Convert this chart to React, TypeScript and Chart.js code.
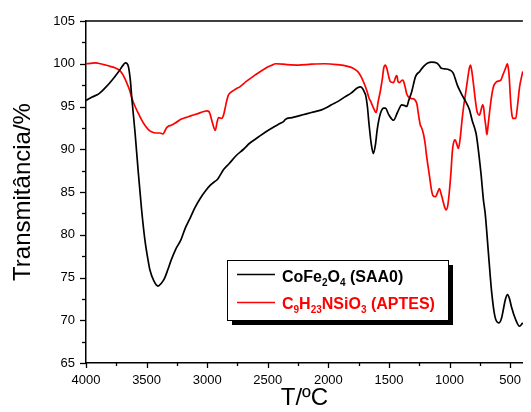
import React, { useEffect, useRef } from "react";
import { Chart, registerables } from "chart.js";

Chart.register(...registerables);

// ---- data ----
const saa0Wavenumber = [
  4000, 3950, 3892, 3840, 3784, 3730, 3690, 3676, 3660, 3649, 3635, 3622, 3595, 3568, 3541, 3514, 3490, 3473,
  3440, 3406, 3380, 3352, 3325, 3298, 3260, 3217, 3180, 3136, 3100, 3055, 3010, 2974, 2940, 2920, 2900, 2866,
  2820, 2758, 2700, 2650, 2580, 2515, 2440, 2400, 2366, 2355, 2300, 2218, 2140, 2056, 2010, 1975, 1920, 1867,
  1810, 1759, 1735, 1718, 1700, 1692, 1678, 1665, 1645, 1629, 1612, 1597, 1570, 1543, 1530, 1500, 1462, 1430,
  1394, 1370, 1354, 1335, 1313, 1281, 1246, 1214, 1180, 1146, 1106, 1085, 1071, 1040, 1004, 970, 936, 903, 868,
  835, 814, 782, 773, 741, 720, 706, 679, 652, 625, 593, 570, 557, 540, 522, 505, 490, 458, 423, 396,
];
const saa0Transmittance = [
  95.7, 96.1, 96.5, 97.2, 98.1, 99.1, 99.9, 100.1, 100.0, 99.6, 98.2, 96.0, 91.9, 87.2, 82.9, 79.4, 77.2, 75.9,
  74.6, 74.0, 74.3, 74.9, 75.9, 77.0, 78.3, 79.4, 80.8, 82.1, 83.2, 84.3, 85.2, 85.8, 86.2, 86.4, 86.8, 87.6,
  88.3, 89.3, 90.0, 90.7, 91.4, 92.05, 92.7, 93.0, 93.3, 93.5, 93.7, 94.0, 94.3, 94.6, 94.9, 95.2, 95.6, 96.1,
  96.6, 97.2, 97.3, 97.1, 96.6, 96.3, 95.0, 93.0, 90.5, 89.5, 90.5, 92.3, 94.2, 94.8, 94.8, 94.0, 93.4, 94.3,
  95.2, 95.1, 95.0, 95.8, 96.7, 98.5, 99.1, 99.7, 100.1, 100.2, 100.1, 99.8, 99.5, 99.4, 99.3, 98.9, 97.5, 96.5,
  95.6, 94.6, 93.4, 91.9, 91.1, 87.2, 84.0, 82.5, 77.8, 73.2, 70.4, 69.7, 70.3, 71.2, 72.4, 73.0, 72.5, 71.6,
  70.2, 69.3, 69.7,
];

const aptesWavenumber = [
  4000, 3960, 3919, 3880, 3838, 3800, 3757, 3730, 3703, 3680, 3662, 3640, 3622, 3595, 3568, 3540, 3514, 3485,
  3460, 3419, 3390, 3365, 3350, 3338, 3320, 3298, 3260, 3217, 3180, 3136, 3070, 3001, 2985, 2974, 2955, 2933,
  2918, 2906, 2880, 2865, 2852, 2840, 2826, 2800, 2758, 2731, 2680, 2623, 2570, 2515, 2470, 2434, 2340, 2245,
  2140, 2030, 1930, 1840, 1800, 1759, 1730, 1705, 1686, 1665, 1651, 1630, 1605, 1590, 1570, 1555, 1543, 1530,
  1515, 1500, 1489, 1462, 1443, 1435, 1425, 1414, 1389, 1381, 1365, 1354, 1327, 1300, 1287, 1268, 1260, 1241,
  1233, 1214, 1200, 1192, 1165, 1150, 1138, 1116, 1100, 1084, 1070, 1057, 1040, 1030, 1015, 1003, 990, 976, 962,
  954, 940, 927, 912, 900, 884, 868, 850, 835, 827, 815, 800, 785, 773, 754, 740, 727, 718, 711, 700, 692, 682,
  671, 655, 638, 611, 590, 576, 560, 543, 530, 524, 515, 508, 495, 485, 476, 454, 440, 422, 396,
];
const aptesTransmittance = [
  100.0, 100.05, 100.1, 100.0, 99.85, 99.7, 99.5, 99.3, 98.9, 98.3, 97.7, 96.9, 96.0, 95.0, 94.2, 93.4, 92.8, 92.3,
  92.05, 91.9, 91.9, 91.8, 92.1, 92.45, 92.7, 92.8, 93.1, 93.5, 93.7, 93.9, 94.2, 94.5, 94.4, 94.0, 93.0, 92.2,
  93.2, 93.7, 93.6, 94.0, 94.8, 95.6, 96.3, 96.7, 97.1, 97.3, 97.9, 98.5, 99.0, 99.5, 99.8, 100.0, 99.9, 99.85,
  99.95, 100.0, 99.9, 99.7, 99.5, 99.1, 98.5, 97.7, 97.0, 96.0, 95.6, 94.9, 94.3, 95.5, 96.9, 98.2, 99.5, 99.85,
  99.3, 98.4, 97.9, 97.8, 98.5, 98.6, 97.9, 97.8, 98.1, 98.0, 97.2, 96.5, 96.0, 95.9, 95.8, 95.2, 94.4, 92.8,
  92.6, 91.7, 90.5, 89.5, 86.8, 85.3, 84.6, 84.45, 84.9, 85.4, 84.8, 84.1, 83.2, 82.9, 83.4, 84.85, 87.0, 89.9, 91.0,
  91.1, 90.6, 90.1, 91.3, 93.0, 95.0, 96.5, 98.3, 99.6, 99.85, 99.0, 97.3, 95.5, 94.4, 94.0, 94.6, 95.2, 94.8, 93.8, 92.6, 91.7, 92.8,
  94.2, 96.0, 97.3, 97.9, 98.0, 98.1, 98.7, 99.3, 99.8, 100.0, 99.5, 98.5, 95.4, 94.0, 93.6, 93.6, 95.0, 97.3, 99.1,
];

const xMajorTicks = [4000, 3500, 3000, 2500, 2000, 1500, 1000, 500];
const xMinorTicks = [3750, 3250, 2750, 2250, 1750, 1250, 750];
const yMajorTicks = [65, 70, 75, 80, 85, 90, 95, 100, 105];
const yMinorTicks = [67.5, 72.5, 77.5, 82.5, 87.5, 92.5, 97.5, 102.5];

const xAxisTitle = "T/ºC";
const yAxisTitle = "Transmitância/%";

// legend labels as [text, isSubscript] parts
const saa0Label: [string, boolean][] = [["CoFe", false], ["2", true], ["O", false], ["4", true], [" (SAA0)", false]];
const aptesLabel: [string, boolean][] = [
  ["C", false], ["9", true], ["H", false], ["23", true], ["NSiO", false], ["3", true], [" (APTES)", false],
];

const FONT = "Arial, 'Liberation Sans', sans-serif";

const framePlugin = {
  id: "frameAndLegend",
  afterDraw(chart: any) {
    const { ctx, chartArea, scales } = chart;
    const xs = scales.x;
    const ys = scales.y;
    ctx.save();
    ctx.strokeStyle = "#000";
    ctx.lineWidth = 1.5;
    // top frame line
    ctx.beginPath();
    ctx.moveTo(chartArea.left, chartArea.top);
    ctx.lineTo(chartArea.right, chartArea.top);
    ctx.stroke();
    // x ticks
    ctx.lineWidth = 1.3;
    const tickX = (v: number, len: number) => {
      const px = Math.round(xs.getPixelForValue(v)) + 0.5;
      if (px > chartArea.right) return;
      ctx.beginPath();
      ctx.moveTo(px, chartArea.bottom);
      ctx.lineTo(px, chartArea.bottom + len);
      ctx.stroke();
    };
    xMajorTicks.forEach((v) => tickX(v, 5));
    xMinorTicks.forEach((v) => tickX(v, 3));
    const tickY = (v: number, len: number) => {
      const py = Math.round(ys.getPixelForValue(v)) + 0.5;
      ctx.beginPath();
      ctx.moveTo(chartArea.left, py);
      ctx.lineTo(chartArea.left - len, py);
      ctx.stroke();
    };
    yMajorTicks.forEach((v) => tickY(v, 6));
    yMinorTicks.forEach((v) => tickY(v, 4));

    // legend box
    const bx = 227, by = 260, bw = 221, bh = 60;
    ctx.fillStyle = "#000";
    ctx.fillRect(bx + 5, by + 5, bw, bh);
    ctx.fillStyle = "#fff";
    ctx.fillRect(bx, by, bw, bh);
    ctx.lineWidth = 1;
    ctx.strokeStyle = "#000";
    ctx.strokeRect(bx + 0.5, by + 0.5, bw, bh);

    const drawEntry = (parts: [string, boolean][], color: string, lineY: number, baseY: number) => {
      ctx.strokeStyle = color;
      ctx.lineWidth = 1.5;
      ctx.beginPath();
      ctx.moveTo(237, lineY);
      ctx.lineTo(275, lineY);
      ctx.stroke();
      ctx.fillStyle = color;
      ctx.textBaseline = "alphabetic";
      ctx.textAlign = "left";
      let x = 282;
      for (const [t, sub] of parts) {
        ctx.font = sub ? `bold 10px ${FONT}` : `bold 16px ${FONT}`;
        ctx.fillText(t, x, sub ? baseY + 4 : baseY);
        x += ctx.measureText(t).width;
      }
    };
    drawEntry(saa0Label, "#000", 274.5, 281.5);
    drawEntry(aptesLabel, "#ff0000", 302.5, 308.5);
    ctx.restore();
  },
};

export default function App() {
  const ref = useRef<HTMLCanvasElement>(null);
  useEffect(() => {
    document.body.style.margin = "0";
    document.body.style.overflow = "hidden";
    const canvas = ref.current!;
    const chart = new Chart(canvas, {
      type: "line",
      data: {
        datasets: [
          {
            label: "CoFe2O4 (SAA0)",
            data: saa0Wavenumber.map((x, i) => ({ x, y: saa0Transmittance[i] })),
            borderColor: "#000000",
            borderWidth: 1.7,
            pointRadius: 0,
            cubicInterpolationMode: "monotone",
            fill: false,
          },
          {
            label: "C9H23NSiO3 (APTES)",
            data: aptesWavenumber.map((x, i) => ({ x, y: aptesTransmittance[i] })),
            borderColor: "#ff0000",
            borderWidth: 1.7,
            pointRadius: 0,
            cubicInterpolationMode: "monotone",
            fill: false,
          },
        ],
      },
      options: {
        responsive: false,
        animation: false,
        layout: { padding: { top: 21, left: 0, right: 0, bottom: 0 } },
        plugins: { legend: { display: false }, tooltip: { enabled: false } },
        scales: {
          x: {
            type: "linear",
            reverse: true,
            min: 395,
            max: 4000,
            afterBuildTicks: (scale: any) => {
              scale.ticks = xMajorTicks.map((v) => ({ value: v }));
            },
            afterFit: (scale: any) => {
              scale.height = 49;
            },
            grid: { display: false, drawTicks: false },
            border: { display: true, color: "#000", width: 1.5 },
            ticks: {
              autoSkip: false,
              maxRotation: 0,
              padding: 10,
              color: "#000",
              font: { family: FONT, size: 13, lineHeight: 1.2 },
              callback: (v: any) => String(v),
            },
            title: {
              display: true,
              text: xAxisTitle,
              color: "#000",
              font: { family: FONT, size: 24, lineHeight: 1 },
              padding: { top: 0, bottom: 1.3 },
            },
          },
          y: {
            min: 65,
            max: 105,
            afterBuildTicks: (scale: any) => {
              scale.ticks = yMajorTicks.map((v) => ({ value: v }));
            },
            afterFit: (scale: any) => {
              scale.width = 86;
            },
            grid: { display: false, drawTicks: false },
            border: { display: true, color: "#000", width: 1.5 },
            ticks: {
              padding: 11,
              color: "#000",
              font: { family: FONT, size: 13, lineHeight: 1.2 },
              callback: (v: any) => String(v),
            },
            title: {
              display: true,
              text: yAxisTitle,
              color: "#000",
              font: { family: FONT, size: 24, lineHeight: 1 },
              padding: { top: 11, bottom: 0 },
            },
          },
        },
      },
      plugins: [framePlugin],
    } as any);
    return () => chart.destroy();
  }, []);
  return <canvas ref={ref} width={531} height={412} style={{ display: "block", width: 531, height: 412 }} />;
}
